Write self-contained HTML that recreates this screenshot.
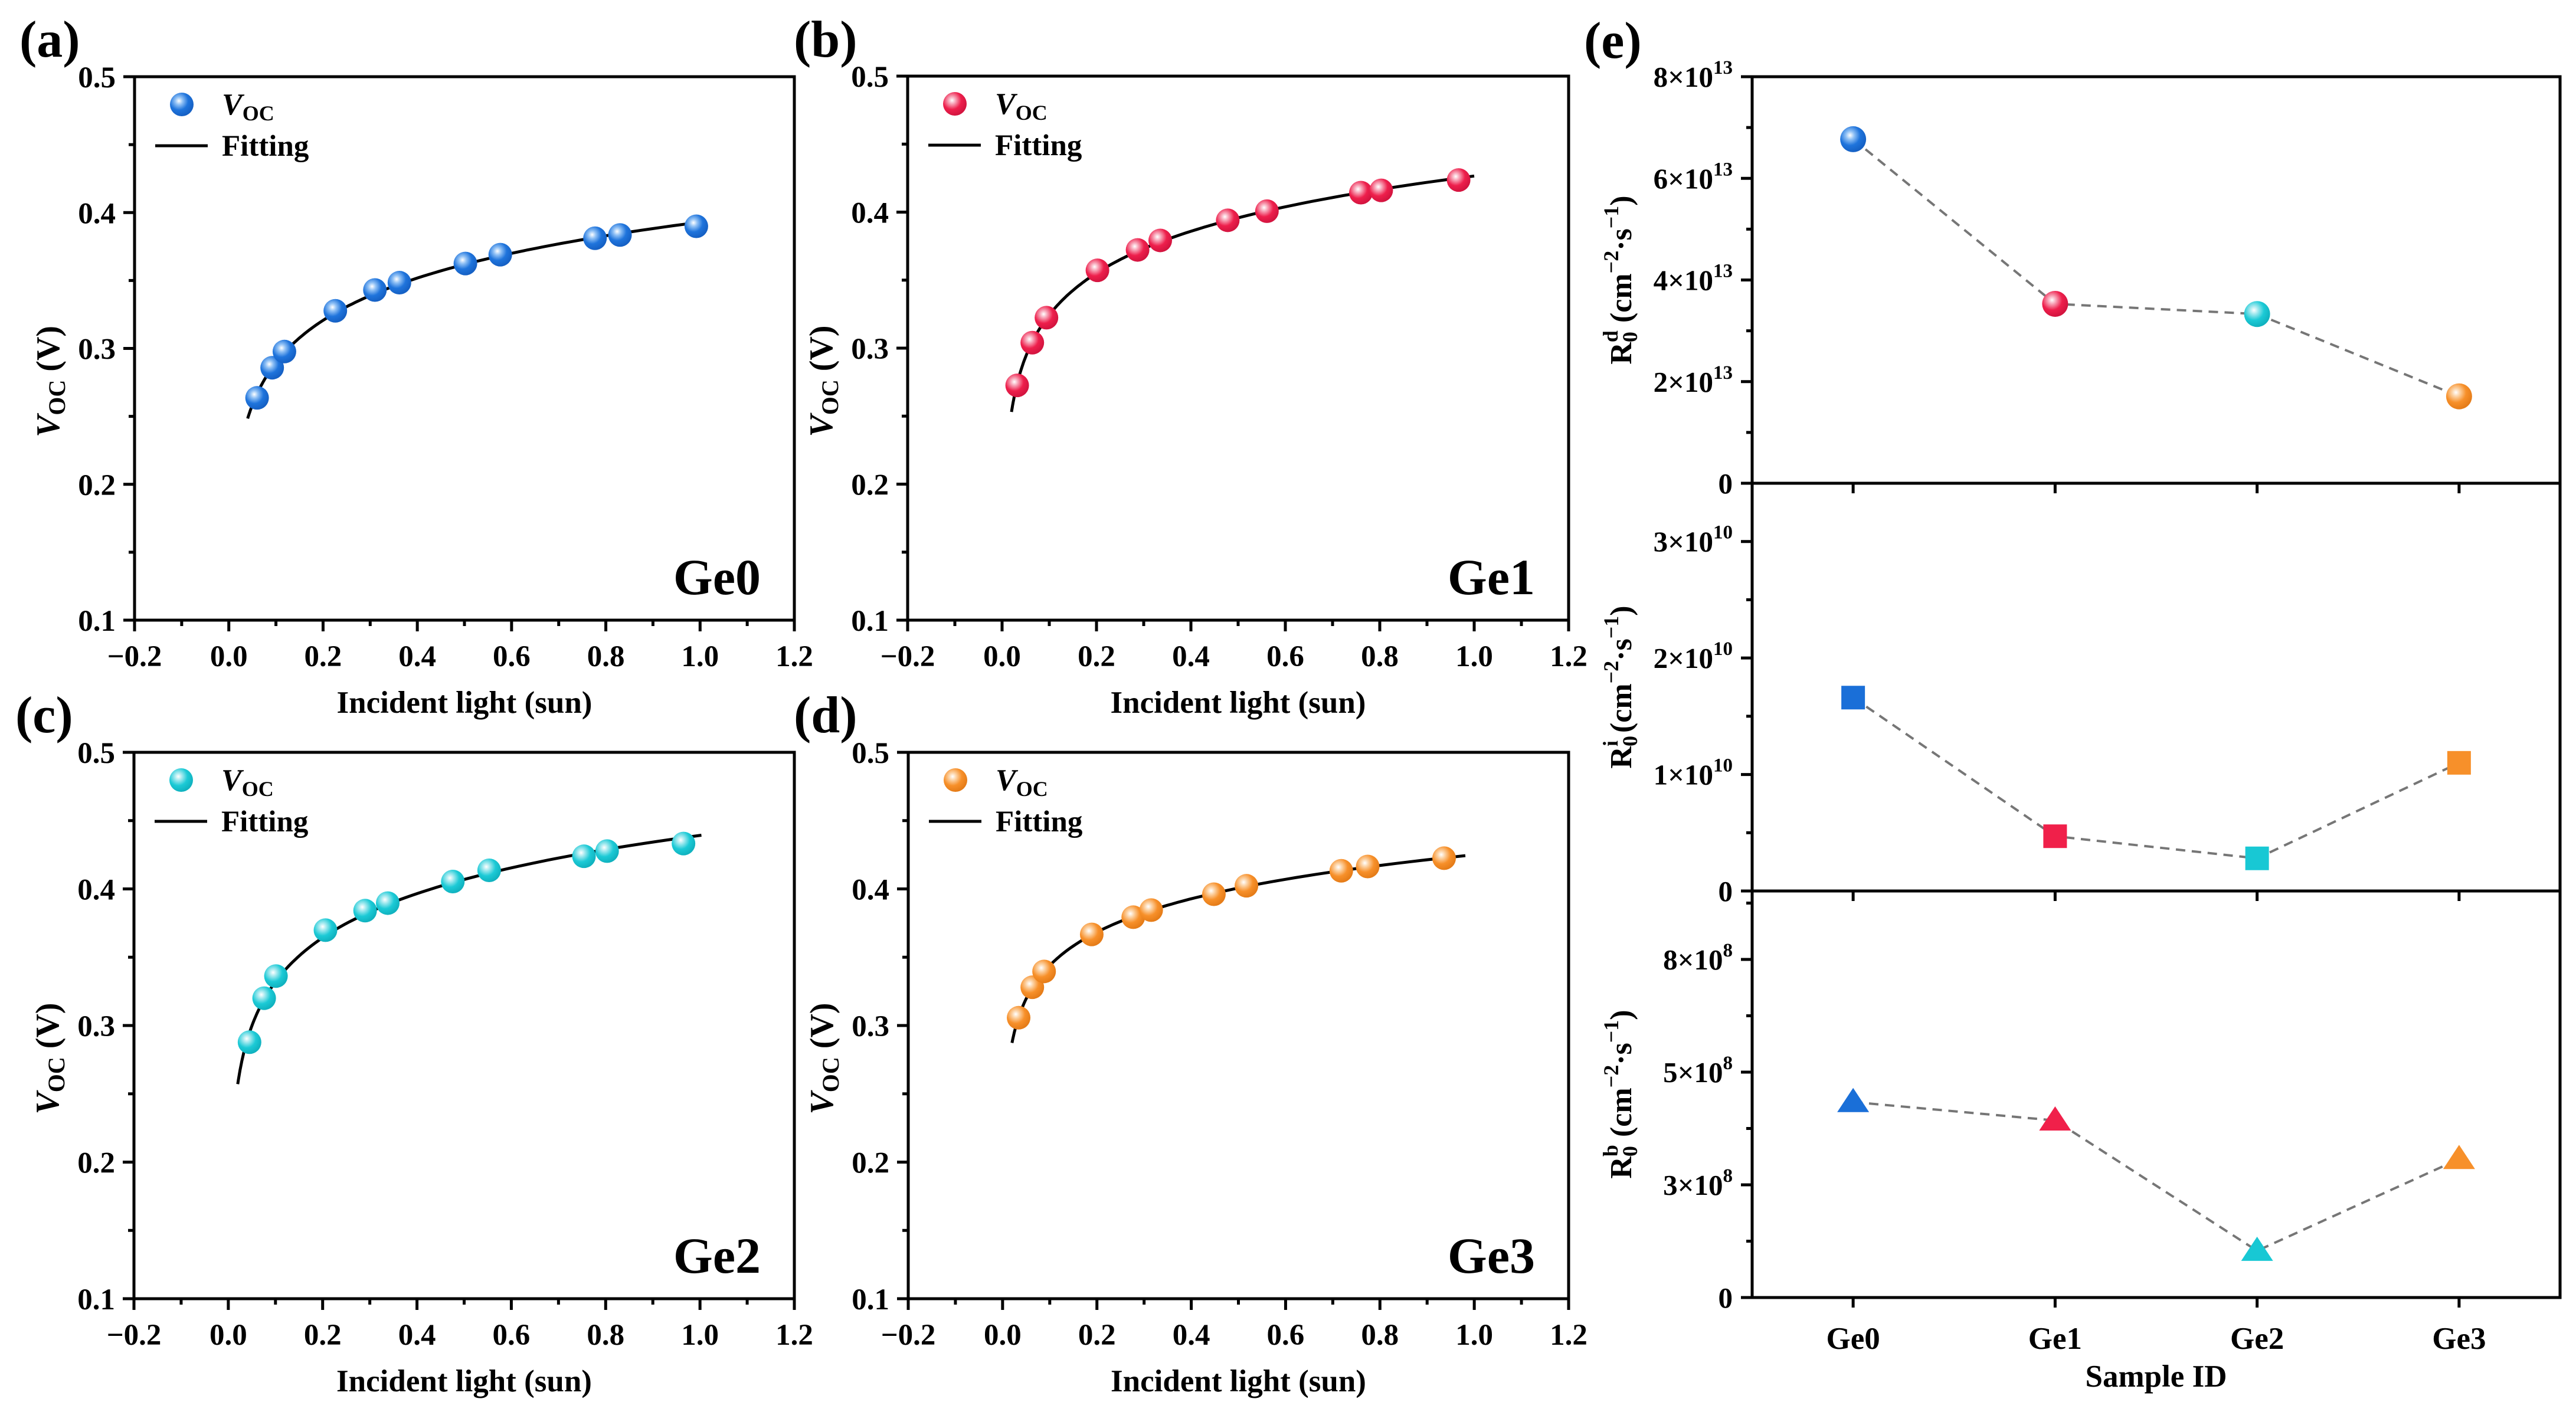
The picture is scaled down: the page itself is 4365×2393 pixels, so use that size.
<!DOCTYPE html>
<html><head><meta charset="utf-8">
<style>
html,body{margin:0;padding:0;background:#fff;}
svg{display:block;font-family:"Liberation Serif",serif;font-weight:bold;}
</style></head>
<body>
<svg id="fig" xmlns="http://www.w3.org/2000/svg" width="4365" height="2393" viewBox="0 0 4365 2393">
<defs>
<radialGradient id="g-blue" cx="0.38" cy="0.35" r="0.65"><stop offset="0" stop-color="#ffffff"/><stop offset="0.25" stop-color="#8fc0f5"/><stop offset="0.6" stop-color="#1f74dc"/><stop offset="1" stop-color="#1560c4"/></radialGradient>
<radialGradient id="g-red" cx="0.38" cy="0.35" r="0.65"><stop offset="0" stop-color="#ffffff"/><stop offset="0.25" stop-color="#f7a0b4"/><stop offset="0.6" stop-color="#ee1f4c"/><stop offset="1" stop-color="#d3143f"/></radialGradient>
<radialGradient id="g-cyan" cx="0.38" cy="0.35" r="0.65"><stop offset="0" stop-color="#ffffff"/><stop offset="0.25" stop-color="#9fe8ee"/><stop offset="0.6" stop-color="#1ccad6"/><stop offset="1" stop-color="#10b2bf"/></radialGradient>
<radialGradient id="g-orange" cx="0.38" cy="0.35" r="0.65"><stop offset="0" stop-color="#ffffff"/><stop offset="0.25" stop-color="#fcd0a0"/><stop offset="0.6" stop-color="#f7902a"/><stop offset="1" stop-color="#e57c18"/></radialGradient>
</defs>
</svg>
<script>
// ---------- data: panels a-d ----------
const geNames = ["Ge0","Ge1","Ge2","Ge3"];
const lightGe0 = [0.060,0.092,0.118,0.226,0.310,0.362,0.502,0.576,0.777,0.830,0.992];
const vocGe0   = [0.2636,0.2858,0.2977,0.3277,0.3430,0.3484,0.3625,0.3690,0.3811,0.3835,0.3899];
const lightGe1 = [0.032,0.064,0.094,0.202,0.287,0.335,0.478,0.561,0.760,0.803,0.967];
const vocGe1   = [0.2726,0.3040,0.3224,0.3572,0.3722,0.3792,0.3940,0.4007,0.4143,0.4160,0.4236];
const lightGe2 = [0.045,0.076,0.101,0.206,0.290,0.338,0.476,0.553,0.754,0.803,0.965];
const vocGe2   = [0.2878,0.3200,0.3362,0.3698,0.3841,0.3896,0.4054,0.4136,0.4239,0.4277,0.4332];
const lightGe3 = [0.034,0.063,0.088,0.189,0.277,0.315,0.448,0.517,0.718,0.774,0.936];
const vocGe3   = [0.3057,0.3280,0.3396,0.3667,0.3793,0.3845,0.3961,0.4023,0.4133,0.4164,0.4225];
const fitStart = [0.040,0.020,0.020,0.020];
const fitEnd   = [1.000,1.000,1.003,0.981];
const xTicks = [-0.2,0.0,0.2,0.4,0.6,0.8,1.0,1.2];
const xTickLabels = ["\u22120.2","0.0","0.2","0.4","0.6","0.8","1.0","1.2"];
const yTicks = [0.1,0.2,0.3,0.4,0.5];
const yTickLabels = ["0.1","0.2","0.3","0.4","0.5"];
// ---------- data: panel e ----------
const sampleIds = ["Ge0","Ge1","Ge2","Ge3"];
const r0d = [6.77,3.53,3.33,1.71];      // x10^13
const r0i = [1.66,0.47,0.28,1.10];      // x10^10
const r0b = [4.77,4.32,1.14,3.38];      // x10^8
const dTicks = [0,2,4,6,8];
const dTickLabels = ["0","2","4","6","8"];
const iTicks = [0,1,2,3];
const iTickLabels = ["0","1","2","3"];
const bTicks = [0,2.75,5.5,8.25];
const bTickLabels = ["0","3","5","8"];

const NS = "http://www.w3.org/2000/svg";
const svg = document.getElementById("fig");
function mk(tag, attrs, parent){
  const e = document.createElementNS(NS, tag);
  for (const k in attrs) e.setAttribute(k, attrs[k]);
  (parent||svg).appendChild(e);
  return e;
}
const colors = ["blue","red","cyan","orange"];
const solid = {blue:"#1a6fd8",red:"#f0204a",cyan:"#18c8d4",orange:"#f7902a"};

function voltagePanel(idx, L, R, T, B, xs, ys, letter, lx, ly){
  const g = mk("g", {});
  
  
  const xMin=-0.2, xMax=1.2, yMin=0.1, yMax=0.5;
  const X = v => L + (v - xMin)/(xMax - xMin)*(R - L);
  const Y = v => B - (v - yMin)/(yMax - yMin)*(B - T);
  const pl = mk("text", {x:lx, y:ly, "font-size":88}, g);
  pl.textContent = "(" + letter + ")";
  
  
  const fr = mk("rect", {x:L, y:T, width:R-L, height:B-T, fill:"none", stroke:"#000", "stroke-width":5}, g);
  
  
  for (let i=0;i<xTicks.length;i++){
    const x = X(xTicks[i]);
    mk("line", {x1:x, x2:x, y1:B, y2:B+19, stroke:"#000", "stroke-width":5}, g);
    if (i < xTicks.length-1){
      const xm = X((xTicks[i]+xTicks[i+1])/2);
      mk("line", {x1:xm, x2:xm, y1:B, y2:B+10, stroke:"#000", "stroke-width":5}, g);
    }
    const t = mk("text", {x:x, y:B+78, "font-size":51, "text-anchor":"middle"}, g);
    t.textContent = xTickLabels[i];
    
    
  }
  for (let i=0;i<yTicks.length;i++){
    const y = Y(yTicks[i]);
    mk("line", {x1:L, x2:L-19, y1:y, y2:y, stroke:"#000", "stroke-width":5}, g);
    if (i < yTicks.length-1){
      const ym = Y((yTicks[i]+yTicks[i+1])/2);
      mk("line", {x1:L, x2:L-10, y1:ym, y2:ym, stroke:"#000", "stroke-width":5}, g);
    }
    const t = mk("text", {x:L-32, y:y+18, "font-size":51, "text-anchor":"end"}, g);
    t.textContent = yTickLabels[i];
    
    
  }
  const xt = mk("text", {x:(L+R)/2, y:B+157, "font-size":53, "text-anchor":"middle"}, g);
  xt.textContent = "Incident light (sun)";
  
  
  const cy = (T+B)/2 + 56;
  const yt = mk("text", {x:0, y:0, "font-size":56, "text-anchor":"middle", transform:"translate("+(L-128)+","+cy+") rotate(-90)"}, g);
  
  
  const t1 = mk("tspan", {"font-style":"italic"}, yt); t1.textContent = "V";
  const t2 = mk("tspan", {"font-size":40, dy:10}, yt); t2.textContent = "OC";
  const t3 = mk("tspan", {dy:-10}, yt); t3.textContent = " (V)";
  let n=xs.length, sx=0, sy=0, sxx=0, sxy=0;
  for (let i=0;i<n;i++){ const lx2=Math.log(xs[i]); sx+=lx2; sy+=ys[i]; sxx+=lx2*lx2; sxy+=lx2*ys[i]; }
  const b = (n*sxy - sx*sy)/(n*sxx - sx*sx), a = (sy - b*sx)/n;
  let d = "";
  const N = 120;
  for (let k=0;k<=N;k++){
    const xv = Math.exp(Math.log(fitStart[idx]) + (Math.log(fitEnd[idx])-Math.log(fitStart[idx]))*k/N);
    const yv = a + b*Math.log(xv);
    d += (k?"L":"M") + X(xv).toFixed(1) + "," + Y(yv).toFixed(1);
  }
  const fit = mk("path", {d:d, fill:"none", stroke:"#000", "stroke-width":5}, g);
  
  
  for (let i=0;i<n;i++){
    const c = mk("circle", {cx:X(xs[i]), cy:Y(ys[i]), r:20, fill:"url(#g-"+colors[idx]+")"}, g);
    
    
  }
  const lm = mk("circle", {cx:L+80, cy:T+47, r:20, fill:"url(#g-"+colors[idx]+")"}, g);
  
  
  const lt = mk("text", {x:L+148, y:T+64, "font-size":52}, g);
  
  
  const l1 = mk("tspan", {"font-style":"italic"}, lt); l1.textContent = "V";
  const l2 = mk("tspan", {"font-size":36, dy:10}, lt); l2.textContent = "OC";
  const ll = mk("line", {x1:L+35, x2:L+124, y1:T+117, y2:T+117, stroke:"#000", "stroke-width":5}, g);
  
  
  const lf = mk("text", {x:L+148, y:T+134, "font-size":51}, g);
  lf.textContent = "Fitting";
  
  
  const sl = mk("text", {x:R-57, y:B-44, "font-size":86, "text-anchor":"end"}, g);
  sl.textContent = geNames[idx];
  
  
}

voltagePanel(0, 228, 1346, 130, 1051, lightGe0, vocGe0, "a", 33, 96);
voltagePanel(1, 1538, 2658, 129, 1051, lightGe1, vocGe1, "b", 1345, 96);
voltagePanel(2, 227, 1346, 1275, 2201, lightGe2, vocGe2, "c", 26, 1241);
voltagePanel(3, 1539, 2658, 1275, 2201, lightGe3, vocGe3, "d", 1345, 1241);

// ---------- panel e ----------
const EL = 2969, ER = 4338;
const plE = mk("text", {x:2684, y:98, "font-size":88});
plE.textContent = "(e)";


const catX = i => EL + (i + 0.5)/4*(ER - EL);

function subPlot(name, T, B, vals, ticks, labels, maxV, expo, sup, marker){
  const g = mk("g", {});
  
  
  const Y = v => B - v/maxV*(B - T);
  const fr = mk("rect", {x:EL, y:T, width:ER-EL, height:B-T, fill:"none", stroke:"#000", "stroke-width":5}, g);
  
  
  for (let i=0;i<ticks.length;i++){
    const y = Y(ticks[i]);
    mk("line", {x1:EL, x2:EL-19, y1:y, y2:y, stroke:"#000", "stroke-width":5}, g);
    const step = (ticks.length>1)? ticks[1]-ticks[0] : 1;
    const ym = Y(ticks[i] + step/2);
    if (ym > T) mk("line", {x1:EL, x2:EL-10, y1:ym, y2:ym, stroke:"#000", "stroke-width":5}, g);
    const t = mk("text", {x:EL-33, y:y+17, "font-size":49, "text-anchor":"end"}, g);
    
    
    if (labels[i] === "0"){ t.textContent = "0"; }
    else {
      const a1 = mk("tspan", {}, t); a1.textContent = labels[i] + "\u00d710";
      const a2 = mk("tspan", {"font-size":33, dy:-22}, t); a2.textContent = expo;
    }
  }
  for (let i=0;i<sampleIds.length;i++){
    const x = catX(i);
    mk("line", {x1:x, x2:x, y1:B, y2:B+17, stroke:"#000", "stroke-width":5}, g);
  }
  let d = "";
  for (let i=0;i<vals.length;i++) d += (i?"L":"M") + catX(i) + "," + Y(vals[i]);
  const dl = mk("path", {d:d, fill:"none", stroke:"#767676", "stroke-width":4, "stroke-dasharray":"16,11"}, g);
  
  
  for (let i=0;i<vals.length;i++){
    const x = catX(i), y = Y(vals[i]);
    let m;
    if (marker === "circle") m = mk("circle", {cx:x, cy:y, r:22, fill:"url(#g-"+colors[i]+")"}, g);
    else if (marker === "square") m = mk("rect", {x:x-20, y:y-20, width:40, height:40, fill:solid[colors[i]]}, g);
    else m = mk("path", {d:"M"+(x-27)+","+(y+17)+"L"+x+","+(y-24)+"L"+(x+27)+","+(y+17)+"Z", fill:solid[colors[i]]}, g);
    
    
  }
  const cy = (T+B)/2;
  const yt = mk("text", {x:0, y:0, "font-size":52, "text-anchor":"middle", transform:"translate(2764,"+cy+") rotate(-90)"}, g);
  
  
  const p1 = mk("tspan", {}, yt); p1.textContent = "R";
  const p2 = mk("tspan", {"font-size":36, dy:10}, yt); p2.textContent = "0";
  const p3 = mk("tspan", {"font-size":36, dx:-18, dy:-33}, yt); p3.textContent = sup;
  const p4 = mk("tspan", {dy:23}, yt); p4.textContent = " (cm";
  const p5 = mk("tspan", {"font-size":36, dy:-22}, yt); p5.textContent = "\u22122";
  const p6 = mk("tspan", {dy:22}, yt); p6.textContent = "\u00b7s";
  const p7 = mk("tspan", {"font-size":36, dy:-22}, yt); p7.textContent = "\u22121";
  const p8 = mk("tspan", {dy:22}, yt); p8.textContent = ")";
}
subPlot("subplot-r0d", 130, 819, r0d, dTicks, dTickLabels, 8, "13", "d", "circle");
subPlot("subplot-r0i", 819, 1510, r0i, iTicks, iTickLabels, 3.5, "10", "i", "square");
subPlot("subplot-r0b", 1510, 2199, r0b, bTicks, bTickLabels, 9.92, "8", "b", "triangle");

for (let i=0;i<sampleIds.length;i++){
  const t = mk("text", {x:catX(i), y:2286, "font-size":53, "text-anchor":"middle"});
  t.textContent = sampleIds[i];
  
  
}
const sx = mk("text", {x:(EL+ER)/2, y:2350, "font-size":53, "text-anchor":"middle"});
sx.textContent = "Sample ID";


</script>
</body></html>
